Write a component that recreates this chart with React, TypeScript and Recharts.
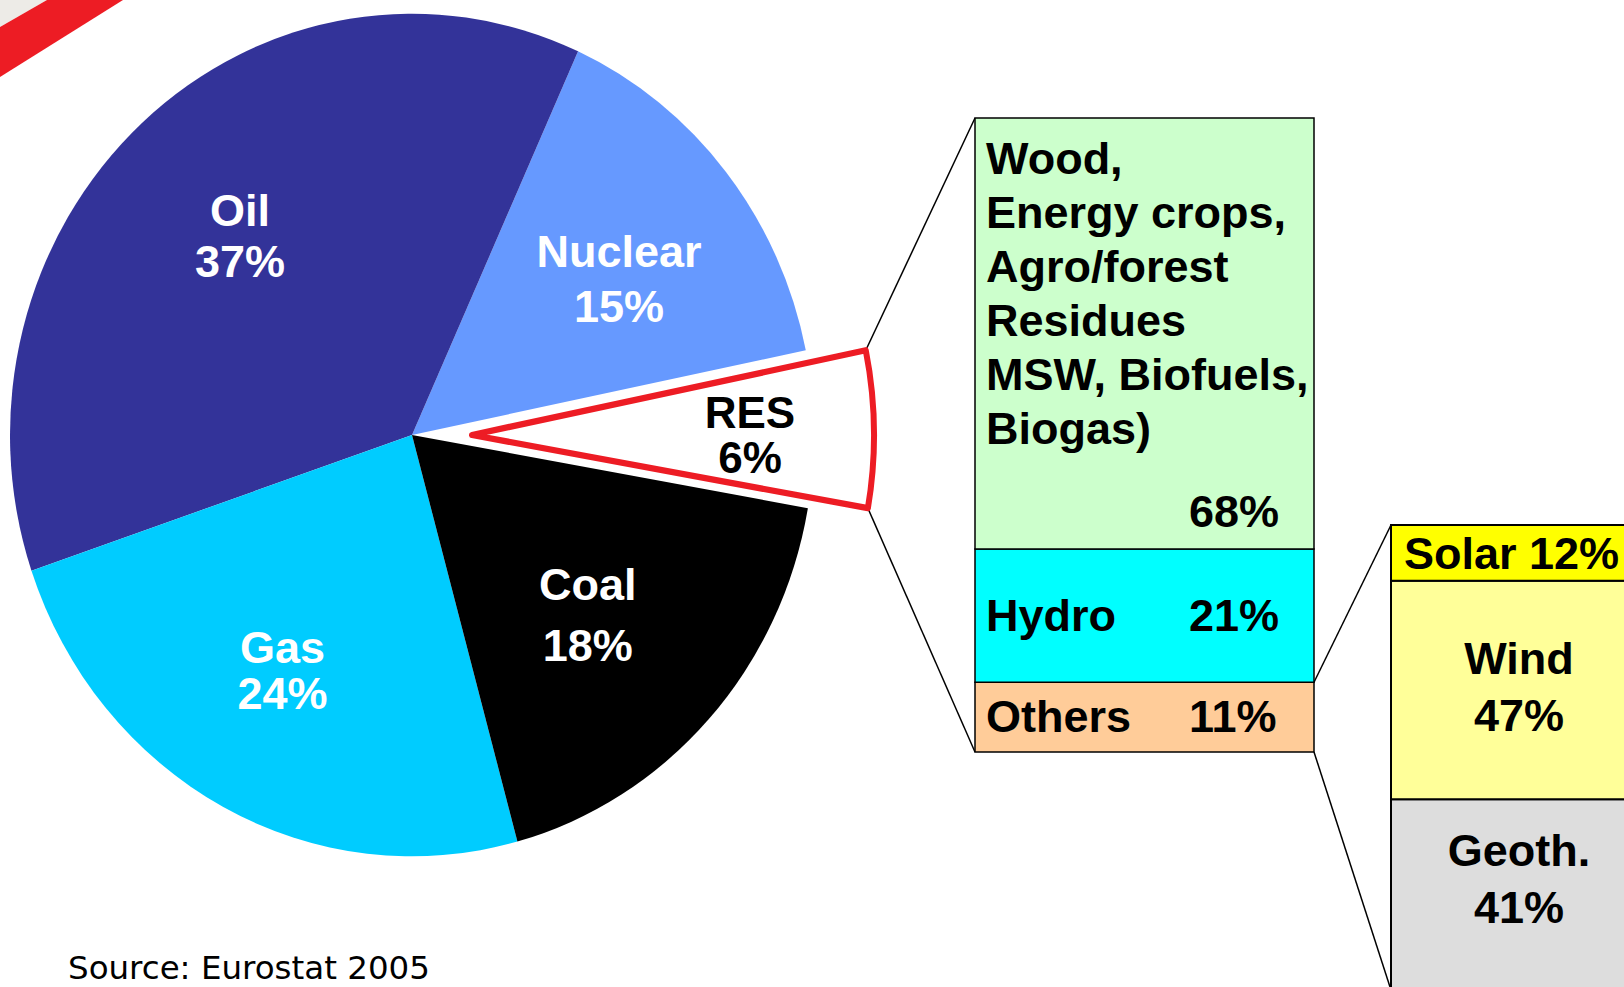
import { PieChart, Pie, Cell, Sector, BarChart, Bar, XAxis, YAxis } from 'recharts';

// primary energy mix (pie), counter-clockwise from the exploded RES slice
const mixNames = ['RES', 'Nuclear', 'Oil', 'Gas', 'Coal'];
const mixShares = [6, 15, 37, 24, 18];
const mixColors = ['#ffffff', '#6699ff', '#333399', '#00ccff', '#000000'];

// RES breakdown, top to bottom
const resParts = ['Biomass', 'Hydro', 'Others'];
const resShares = [68, 21, 11];
const resColors = ['#ccffcc', '#00ffff', '#ffcc99'];
const biomassLines = ['Wood,', 'Energy crops,', 'Agro/forest', 'Residues', 'MSW, Biofuels,', 'Biogas)'];

// "Others" breakdown, top to bottom
const otherParts = ['Solar', 'Wind', 'Geoth.'];
const otherShares = [12, 47, 41];
const otherColors = ['#ffff00', '#ffff99', '#dddddd'];

const FONT = '"Liberation Sans", Arial, sans-serif';
const RED = '#ed1c24';

// pie geometry
const CX = 412;
const CY = 435;
const R = 402;
const Y_STRETCH = 1.048; // the original pie is slightly taller than wide
const START = -10;
const RES_SHIFT = 60;
const LABEL_R = 265;

// box geometry
const BOX1 = { left: 975, top: 118, width: 339, height: 634 };
const BOX2 = { left: 1391, top: 525, width: 256, height: 465 };
const PAD = 2;

const labelTweak: Record<string, { dx: number; dy: number; gap: number; color: string; size: number }> = {
  RES: { dx: 13, dy: 3, gap: 45, color: '#000', size: 44 },
  Nuclear: { dx: 0, dy: 17, gap: 55, color: '#fff', size: 45 },
  Oil: { dx: 6, dy: 6, gap: 51, color: '#fff', size: 45 },
  Gas: { dx: -5, dy: -10, gap: 46, color: '#fff', size: 45 },
  Coal: { dx: -20, dy: -8, gap: 61, color: '#fff', size: 45 },
};

const pieData = mixNames.map((name, i) => ({ name, value: mixShares[i] }));
const resRow = [Object.fromEntries([['name', 'RES'], ...resParts.map((p, i) => [p, resShares[i]])])];
const otherRow = [Object.fromEntries([['name', 'Others'], ...otherParts.map((p, i) => [p, otherShares[i]])])];

const renderSlice = (props: any) => {
  const name = props.payload?.name ?? props.name;
  const isRes = name === 'RES';
  const cx = props.cx + (isRes ? RES_SHIFT : 0);
  const cy = props.cy;
  return (
    <g transform={`translate(${cx} ${cy}) scale(1 ${Y_STRETCH}) translate(${-cx} ${-cy})`}>
      <Sector
        cx={cx}
        cy={cy}
        innerRadius={0}
        outerRadius={props.outerRadius}
        startAngle={props.startAngle}
        endAngle={props.endAngle}
        fill={isRes ? '#ffffff' : props.fill}
        stroke={isRes ? RED : 'none'}
        strokeWidth={isRes ? 6 : 0}
        strokeLinejoin="round"
      />
    </g>
  );
};

const renderPieLabel = (p: any) => {
  const name = p.payload?.name ?? p.name;
  const t = labelTweak[name];
  const cx = p.cx + (name === 'RES' ? RES_SHIFT : 0);
  const rad = (p.midAngle * Math.PI) / 180;
  const x = cx + LABEL_R * Math.cos(rad) + t.dx;
  const cyText = p.cy - LABEL_R * Y_STRETCH * Math.sin(rad) + t.dy;
  const b1 = cyText - t.gap / 2 + 16;
  return (
    <text textAnchor="middle" fill={t.color} fontFamily={FONT} fontWeight="bold" fontSize={t.size}>
      <tspan x={x} y={b1}>{name}</tspan>
      <tspan x={x} y={b1 + t.gap}>{`${p.value}%`}</tspan>
    </text>
  );
};

const txt = (x: number, y: number, s: string, anchor: 'start' | 'middle' = 'start') => (
  <text x={x} y={y} textAnchor={anchor} fontFamily={FONT} fontWeight="bold" fontSize={45} fill="#000">
    {s}
  </text>
);

const resLabel = (part: string) => (p: any) => {
  const x = p.x ?? p.viewBox?.x;
  const y = p.y ?? p.viewBox?.y;
  const h = p.height ?? p.viewBox?.height;
  const i = resParts.indexOf(part);
  const pct = `${resShares[i]}%`;
  if (part === 'Biomass') {
    return (
      <g>
        {biomassLines.map((l, k) => (
          <g key={k}>{txt(x + 11, y + 56 + k * 54, l)}</g>
        ))}
        {txt(x + 214, y + h - 22, pct)}
      </g>
    );
  }
  return (
    <g>
      {txt(x + 11, y + h / 2 + 15, part)}
      {txt(x + 214, y + h / 2 + 15, pct)}
    </g>
  );
};

const otherLabel = (part: string) => (p: any) => {
  const x = p.x ?? p.viewBox?.x;
  const y = p.y ?? p.viewBox?.y;
  const h = p.height ?? p.viewBox?.height;
  const i = otherParts.indexOf(part);
  const pct = `${otherShares[i]}%`;
  if (part === 'Solar') return txt(x + 13, y + h / 2 + 16, `${part} ${pct}`);
  const top = part === 'Wind' ? y + 93 : y + 67;
  return (
    <g>
      {txt(x + 128, top, part, 'middle')}
      {txt(x + 128, top + 57, pct, 'middle')}
    </g>
  );
};

function StackBox({ box, row, parts, colors, label, strokeWidth }: any) {
  const order = [...parts].reverse(); // first stacked bar sits at the bottom
  return (
    <div style={{ position: 'absolute', left: box.left - PAD, top: box.top - PAD }}>
      <BarChart
        width={box.width + PAD * 2}
        height={box.height + PAD * 2}
        data={row}
        margin={{ top: PAD, right: PAD, bottom: PAD, left: PAD }}
        barCategoryGap={0}
      >
        <XAxis dataKey="name" hide />
        <YAxis type="number" domain={[0, 100]} hide />
        {order.map((p: string) => (
          <Bar
            key={p}
            dataKey={p}
            stackId="s"
            fill={colors[parts.indexOf(p)]}
            stroke="#000"
            strokeWidth={strokeWidth}
            isAnimationActive={false}
            label={label(p)}
          />
        ))}
      </BarChart>
    </div>
  );
}

export default function App() {
  const resEnd = START + mixShares[0] * 3.6;
  const corner = (a: number) => {
    const r = (a * Math.PI) / 180;
    return [CX + RES_SHIFT + R * Math.cos(r), CY - R * Y_STRETCH * Math.sin(r)];
  };
  const [tx, ty] = corner(resEnd);
  const [bx, by] = corner(START);
  const b1Right = BOX1.left + BOX1.width;
  const othersTop = BOX1.top + BOX1.height * (1 - resShares[2] / 100);

  return (
    <div
      style={{
        position: 'fixed',
        left: 0,
        top: 0,
        width: 1624,
        height: 987,
        overflow: 'hidden',
        background: '#fff',
      }}
    >
      <svg width={1624} height={987} style={{ position: 'absolute', left: 0, top: 0 }}>
        <polygon points="0,0 47,0 0,27" fill="#edebe7" />
        <polygon points="47,0 123,0 0,77 0,27" fill={RED} />
        <line x1={tx} y1={ty} x2={BOX1.left} y2={BOX1.top} stroke="#000" strokeWidth={1.5} />
        <line x1={bx} y1={by} x2={BOX1.left} y2={BOX1.top + BOX1.height} stroke="#000" strokeWidth={1.5} />
        <line x1={b1Right} y1={othersTop} x2={BOX2.left} y2={BOX2.top} stroke="#000" strokeWidth={1.5} />
        <line
          x1={b1Right}
          y1={BOX1.top + BOX1.height}
          x2={BOX2.left}
          y2={BOX2.top + BOX2.height}
          stroke="#000"
          strokeWidth={1.5}
        />
        <text x={68} y={979} fontFamily='"DejaVu Sans", Verdana, sans-serif' fontSize={32.5} fill="#000">
          Source: Eurostat 2005
        </text>
      </svg>

      <div style={{ position: 'absolute', left: 0, top: 0 }}>
        <PieChart width={900} height={880} margin={{ top: 0, right: 0, bottom: 0, left: 0 }}>
          <Pie
            data={pieData}
            dataKey="value"
            nameKey="name"
            cx={CX}
            cy={CY}
            innerRadius={0}
            outerRadius={R}
            startAngle={START}
            endAngle={START + 360}
            stroke="none"
            shape={renderSlice}
            label={renderPieLabel}
            labelLine={false}
            isAnimationActive={false}
          >
            {pieData.map((d, i) => (
              <Cell key={d.name} fill={mixColors[i]} />
            ))}
          </Pie>
        </PieChart>
      </div>

      <StackBox box={BOX1} row={resRow} parts={resParts} colors={resColors} label={resLabel} strokeWidth={1.5} />
      <StackBox box={BOX2} row={otherRow} parts={otherParts} colors={otherColors} label={otherLabel} strokeWidth={2} />
    </div>
  );
}
